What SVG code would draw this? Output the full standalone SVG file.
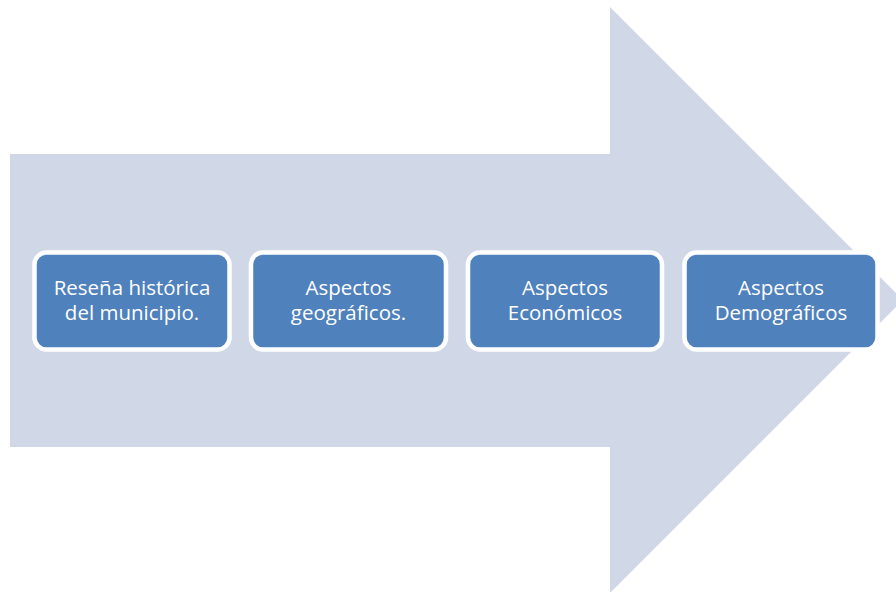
<svg xmlns="http://www.w3.org/2000/svg" width="896" height="592" viewBox="0 0 896 592">
<style>
.box{fill:#4F81BD;stroke:#FFFFFF;stroke-width:4.5}
.t{font-family:"Open Sans","Liberation Sans",sans-serif;font-size:20.5px;fill:#FFFFFF;text-anchor:middle}
</style>
<rect width="896" height="592" fill="#FFFFFF"/>
<g id="arrow">
<polygon points="10,154 610,154 610,7 903,300 610,593 610,447 10,447" fill="#D0D8E8"/>
</g>
<g id="connectors"></g>
<g id="n1">
<rect class="box" x="34.5" y="252.5" width="195" height="97" rx="12"/>
<text class="t" x="132" y="295">Reseña histórica</text>
<text class="t" x="132" y="320">del municipio.</text>
</g>
<g id="n2">
<rect class="box" x="251" y="252.5" width="195" height="97" rx="12"/>
<text class="t" x="348.5" y="295">Aspectos</text>
<text class="t" x="348.5" y="320">geográficos.</text>
</g>
<g id="n3">
<rect class="box" x="468" y="252.5" width="194" height="97" rx="12"/>
<text class="t" x="565" y="295">Aspectos</text>
<text class="t" x="565" y="320">Económicos</text>
</g>
<g id="n4">
<rect class="box" x="684.5" y="252.5" width="193" height="97" rx="12"/>
<text class="t" x="781" y="295">Aspectos</text>
<text class="t" x="781" y="320">Demográficos</text>
</g>
</svg>
